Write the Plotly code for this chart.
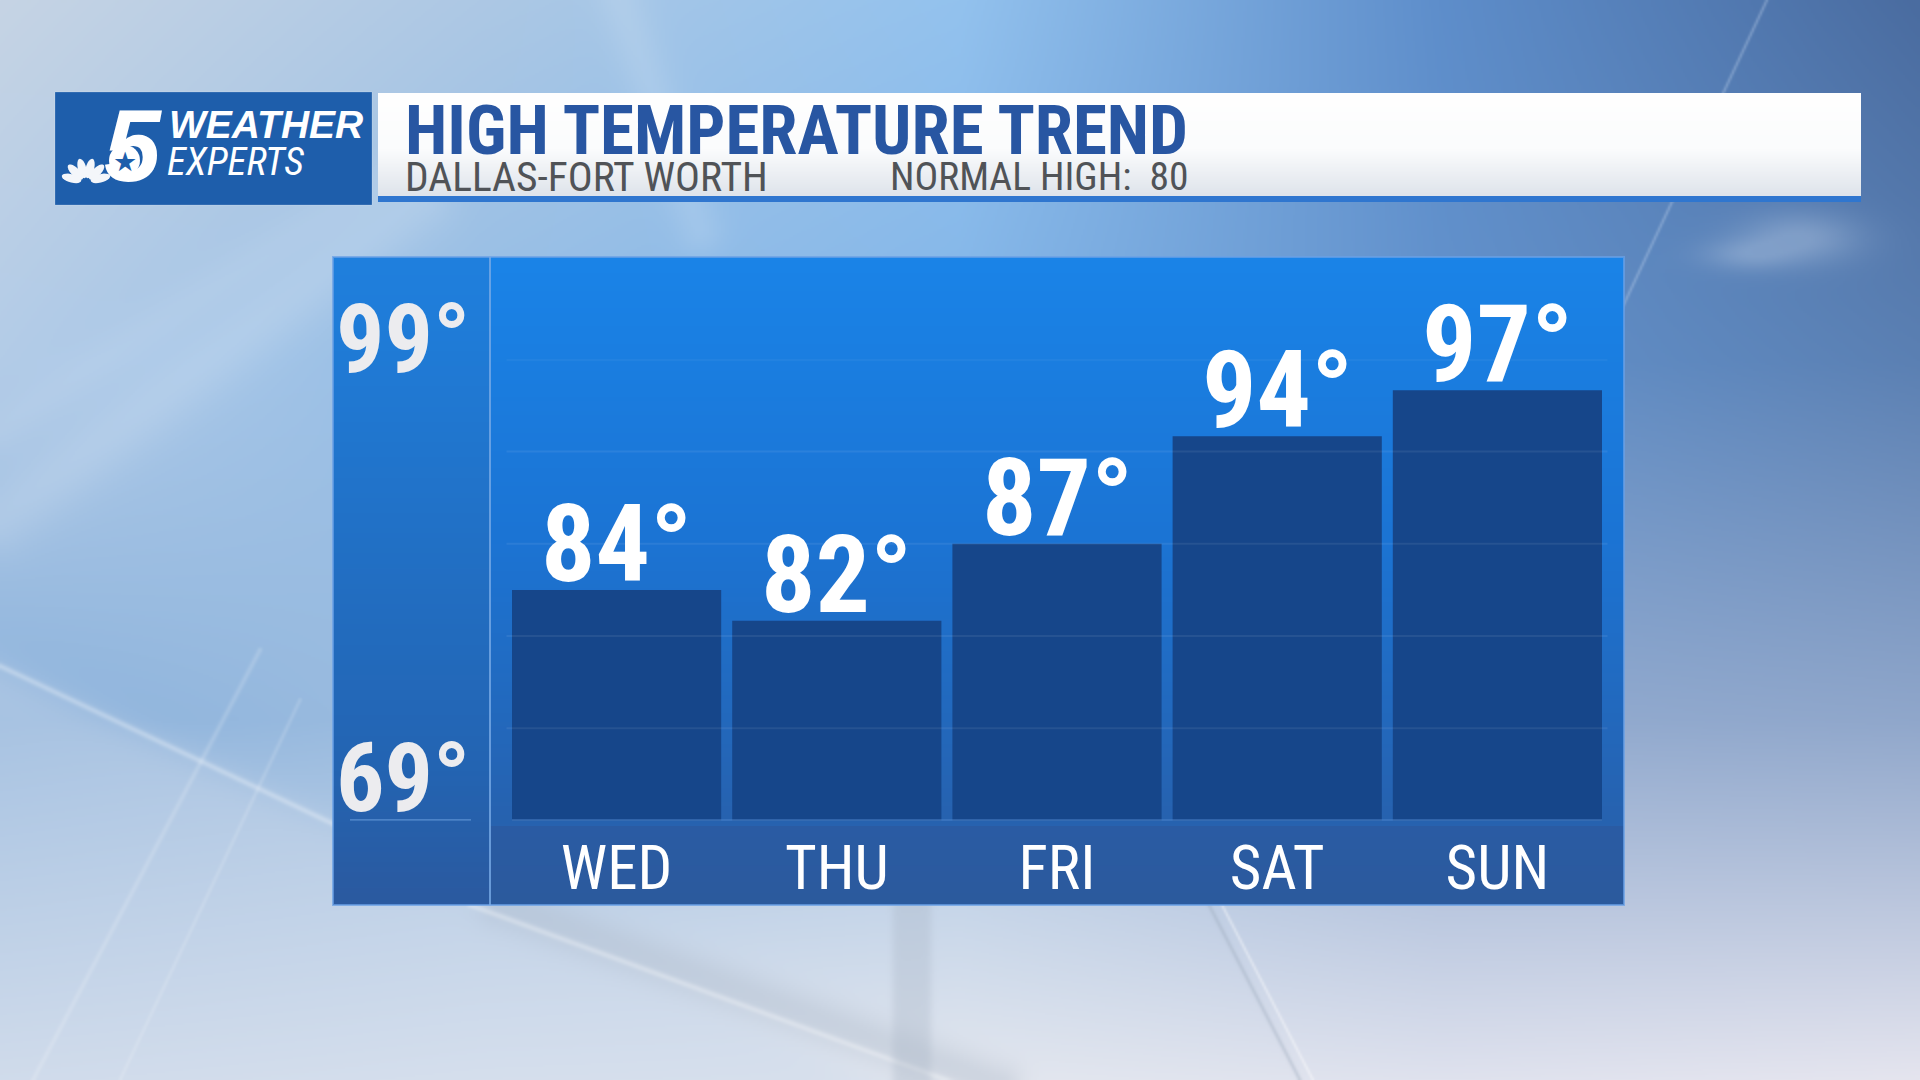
import base64
import struct
import zlib

import numpy as np
import plotly.graph_objects as go

# ---------------- data ----------------
days = ["WED", "THU", "FRI", "SAT", "SUN"]
highs = [84, 82, 87, 94, 97]
scale_min, scale_max = 69, 99
grid_values = [75, 81, 87, 93, 99]
title_text = "HIGH TEMPERATURE TREND"
location_text = "DALLAS-FORT WORTH"
normal_high = 80

# ---------------- helpers ----------------
W, H = 1920, 1080
NARROW = "Roboto Condensed, Open Sans Condensed, DejaVu Sans Condensed, sans-serif"
WIDE = "Liberation Sans, Arial, sans-serif"


def px(x):
    return x / W


def py(y):
    return 1 - y / H


def hex2rgb(h):
    return np.array([int(h[i:i + 2], 16) for i in (1, 3, 5)], float)


def png_uri(img):
    img = np.clip(img, 0, 255).astype(np.int16)
    h, w, _ = img.shape
    sub = img.copy()
    sub[:, 1:, :] = img[:, 1:, :] - img[:, :-1, :]
    sub = (sub % 256).astype(np.uint8).reshape(h, w * 3)
    raw = np.hstack([np.ones((h, 1), np.uint8), sub]).tobytes()

    def chunk(t, d):
        return (struct.pack(">I", len(d)) + t + d
                + struct.pack(">I", zlib.crc32(t + d) & 0xFFFFFFFF))

    png = (b"\x89PNG\r\n\x1a\n"
           + chunk(b"IHDR", struct.pack(">IIBBBBB", w, h, 8, 2, 0, 0, 0))
           + chunk(b"IDAT", zlib.compress(raw, 9))
           + chunk(b"IEND", b""))
    return "data:image/png;base64," + base64.b64encode(png).decode()


def bilinear(anchors, gw, gh):
    A = np.array([[hex2rgb(c) for c in row] for row in anchors])
    R, C, _ = A.shape
    yy = np.linspace(0, R - 1, gh)
    xx = np.linspace(0, C - 1, gw)
    r0 = np.minimum(np.floor(yy).astype(int), R - 2)
    c0 = np.minimum(np.floor(xx).astype(int), C - 2)
    fr = (yy - r0)[:, None, None]
    fc = (xx - c0)[None, :, None]
    a = A[r0][:, c0]
    b = A[r0][:, c0 + 1]
    c = A[r0 + 1][:, c0]
    d = A[r0 + 1][:, c0 + 1]
    return (1 - fr) * (1 - fc) * a + (1 - fr) * fc * b + fr * (1 - fc) * c + fr * fc * d


def vgradient(stops, n=128):
    pos = np.array([s[0] for s in stops])
    cols = np.array([hex2rgb(s[1]) for s in stops])
    t = np.linspace(0, 1, n)
    out = np.stack([np.interp(t, pos, cols[:, k]) for k in range(3)], axis=1)
    return np.repeat(out[:, None, :], 4, axis=1)


# ---------------- background picture (decoration) ----------------
S = 0.5
gw, gh = int(W * S), int(H * S)
bg = bilinear([
    ["#c6d4e4", "#adc8e4", "#93c2ee", "#5e8ecb", "#4a6ca0"],
    ["#b3cce8", "#94bde6", "#82b5e8", "#6392cc", "#5b80b3"],
    ["#8db3dc", "#9dbde0", "#a9c4e3", "#92abd0", "#90a7cb"],
    ["#d6dfec", "#dfe5ef", "#e3e7ef", "#dfe2ee", "#e5e5ef"],
], gw, gh)
Y, X = np.mgrid[0:gh, 0:gw]
X = (X + 0.5) / S
Y = (Y + 0.5) / S


def seg_dist(x0, y0, x1, y1):
    dx, dy = x1 - x0, y1 - y0
    t = np.clip(((X - x0) * dx + (Y - y0) * dy) / (dx * dx + dy * dy), 0, 1)
    return np.hypot(X - (x0 + t * dx), Y - (y0 + t * dy))


def blend(mask, color, alpha):
    m = (alpha * mask)[..., None]
    bg[:] = bg * (1 - m) + hex2rgb(color) * m


def streak(x0, y0, x1, y1, width, color, alpha):
    d = seg_dist(x0, y0, x1, y1)
    blend(np.exp(-(d / width) ** 2), color, alpha)


side = ((X - 0) * (855 - 666) - (Y - 666) * (400 - 0))
blend(1 / (1 + np.exp(side / 4000)), "#c9d7ea", 0.45)
streak(0, 520, 420, 200, 35, "#ffffff", 0.14)
streak(0, 430, 420, 150, 25, "#ffffff", 0.08)
streak(0, 666, 420, 865, 3, "#ffffff", 0.3)
streak(33, 1080, 260, 650, 2.5, "#ffffff", 0.17)
streak(120, 1080, 300, 700, 2, "#ffffff", 0.15)
streak(500, 905, 1000, 1085, 22, "#aab6c6", 0.35)
streak(470, 905, 960, 1085, 3, "#ffffff", 0.3)
vb = np.exp(-((X - 912) / 20) ** 6) * (Y > 900)
blend(vb, "#aab6c6", 0.35)
streak(1209, 905, 1300, 1080, 2, "#9aa8ba", 0.35)
streak(1222, 905, 1313, 1080, 1.5, "#ffffff", 0.4)
streak(1767, 0, 1560, 440, 1.5, "#c4d6ee", 0.35)
cloud = np.exp(-(((X - 1800) / 60) ** 2 + ((Y - 238) / 26) ** 2))
cloud += 0.7 * np.exp(-(((X - 1745) / 45) ** 2 + ((Y - 255) / 16) ** 2))
blend(np.clip(cloud, 0, 1), "#c9d8ec", 0.35)
streak(620, 0, 700, 230, 25, "#ffffff", 0.12)
bg_uri = png_uri(bg)

# ---------------- geometry (pixels) ----------------
PANEL_L, PANEL_R, PANEL_T, PANEL_B = 333, 1624, 257, 905
COL_R = 490
BASE_Y = 820.4
TOP99_Y = 359.4
BAND_T = 826
PLOT_L, PLOT_R = 506.5, 1607.5

images = [
    dict(source=bg_uri, x=0, y=1, sizex=1, sizey=1),
    dict(source=png_uri(vgradient([(0, "#1f80de"), (0.8, "#2464b2"), (1, "#2b5aa0")])),
         x=px(PANEL_L), y=py(PANEL_T), sizex=px(COL_R - PANEL_L), sizey=(PANEL_B - PANEL_T) / H),
    dict(source=png_uri(vgradient([(0, "#1a84e8"), (0.5, "#1c74d4"), (1, "#2762af")])),
         x=px(COL_R), y=py(PANEL_T), sizex=px(PANEL_R - COL_R), sizey=(BAND_T - PANEL_T) / H),
    dict(source=png_uri(vgradient([(0, "#2a5ca4"), (1, "#2c5a9d")])),
         x=px(COL_R), y=py(BAND_T), sizex=px(PANEL_R - COL_R), sizey=(PANEL_B - BAND_T) / H),
    dict(source=png_uri(vgradient([(0, "#ffffff"), (0.55, "#fbfcfd"), (1, "#dfe4eb")])),
         x=px(378), y=py(93), sizex=px(1861 - 378), sizey=(196 - 93) / H),
]
layout_images = [dict(im, xref="paper", yref="paper", xanchor="left", yanchor="top",
                      sizing="stretch", layer="below") for im in images]

shapes = [
    dict(type="rect", xref="paper", yref="paper", x0=px(55), x1=px(372), y0=py(92), y1=py(205),
         fillcolor="#1e5eab", line=dict(color="rgba(255,255,255,0.18)", width=1), layer="below"),
    dict(type="rect", xref="paper", yref="paper", x0=px(378), x1=px(1861), y0=py(196), y1=py(202),
         fillcolor="#2f76cf", line=dict(width=0), layer="below"),
    dict(type="rect", xref="paper", yref="paper", x0=px(PANEL_L), x1=px(PANEL_R), y0=py(PANEL_T), y1=py(PANEL_B),
         fillcolor="rgba(0,0,0,0)", line=dict(color="rgba(105,160,230,0.75)", width=2), layer="below"),
    dict(type="line", xref="paper", yref="paper", x0=px(COL_R), x1=px(COL_R), y0=py(PANEL_T), y1=py(PANEL_B),
         line=dict(color="rgba(120,170,230,0.8)", width=2), layer="below"),
    dict(type="line", xref="paper", yref="y", x0=px(350), x1=px(471), y0=scale_min, y1=scale_min,
         line=dict(color="#5a8fd2", width=2.5)),
    dict(type="line", xref="x domain", yref="y", x0=0.005, x1=0.995, y0=scale_min, y1=scale_min,
         line=dict(color="rgba(80,135,205,0.9)", width=2), layer="above"),
]
for g in grid_values:
    shapes.append(dict(type="line", xref="x domain", yref="y", x0=0, x1=1, y0=g, y1=g,
                       line=dict(color="rgba(255,255,255,0.07)", width=2), layer="above"))

# NBC peacock feathers (logo decoration)
pc_x, pc_y = 86, 182
for ang in np.linspace(165, 15, 6):
    a = np.deg2rad(ang)
    cx, cy = pc_x + 15 * np.cos(a), pc_y - 14 * np.sin(a)
    t = np.linspace(0, 2 * np.pi, 24)
    ex = 10 * np.cos(t)
    ey = 4.2 * np.sin(t)
    xs = cx + ex * np.cos(a) - ey * np.sin(a)
    ys = cy - (ex * np.sin(a) + ey * np.cos(a))
    path = "M " + " L ".join(f"{px(xx):.5f},{py(yy):.5f}" for xx, yy in zip(xs, ys)) + " Z"
    shapes.append(dict(type="path", xref="paper", yref="paper", path=path,
                       fillcolor="#f4f6fa", line=dict(width=0), layer="above"))
shapes.append(dict(type="circle", xref="paper", yref="paper", x0=px(109), x1=px(140), y0=py(145), y1=py(176),
                   fillcolor="white", line=dict(width=0), layer="above"))

# ---------------- figure ----------------
fig = go.Figure()
fig.add_trace(go.Bar(x=days, y=highs, marker=dict(color="#16468a", line=dict(width=0)), hoverinfo="skip"))

annotations = []
for d, v in zip(days, highs):
    annotations.append(dict(x=d, y=v, xref="x", yref="y", text=f"{v}°", showarrow=False,
                            yanchor="middle", xanchor="center", yshift=46,
                            font=dict(family=NARROW, size=108, color="white", weight="bold")))
for v, shift in ((scale_max, 20), (scale_min, 42)):
    annotations.append(dict(x=px(472), y=v, xref="paper", yref="y", text=f"{v}°", showarrow=False,
                            xanchor="right", yanchor="middle", yshift=shift,
                            font=dict(family=NARROW, size=96, color="#ececef", weight="bold")))

annotations += [
    dict(x=px(403), y=py(131), text=title_text, xanchor="left", yanchor="middle",
         font=dict(family=NARROW, size=69, color="#2856a2", weight="bold")),
    dict(x=px(403), y=py(177), text=location_text, xanchor="left", yanchor="middle",
         font=dict(family=NARROW, size=41.5, color="#505357")),
    dict(x=px(888), y=py(177), text=f"NORMAL HIGH:\u00a0 {normal_high}", xanchor="left", yanchor="middle",
         font=dict(family=NARROW, size=39.5, color="#505357")),
    dict(x=px(133), y=py(146), text="<i>5</i>", xanchor="center", yanchor="middle",
         font=dict(family=WIDE, size=102, color="white", weight="bold")),
    dict(x=px(124.5), y=py(161), text="★", xanchor="center", yanchor="middle",
         font=dict(family="DejaVu Sans", size=27, color="#1e5eab")),
    dict(x=px(167), y=py(125), text="<i>WEATHER</i>", xanchor="left", yanchor="middle",
         font=dict(family=WIDE, size=39, color="white", weight="bold")),
    dict(x=px(165), y=py(162), text="<i>EXPERTS</i>", xanchor="left", yanchor="middle",
         font=dict(family=NARROW, size=39, color="white")),
]
for a in annotations:
    a.setdefault("showarrow", False)
    a.setdefault("xref", "paper")
    a.setdefault("yref", "paper")

fig.update_layout(
    width=W, height=H,
    margin=dict(l=0, r=0, t=0, b=0),
    paper_bgcolor="#b8cde6",
    plot_bgcolor="rgba(0,0,0,0)",
    showlegend=False,
    bargap=0.05,
    images=layout_images,
    shapes=shapes,
    annotations=annotations,
    xaxis=dict(domain=[px(PLOT_L), px(PLOT_R)], showgrid=False, zeroline=False, showline=False,
               ticks="", tickfont=dict(family=NARROW, size=61, color="white"),
               ticklabelstandoff=7, fixedrange=True),
    yaxis=dict(domain=[py(BASE_Y), py(TOP99_Y)], range=[scale_min, scale_max],
               showgrid=False, zeroline=False, showline=False, showticklabels=False,
               fixedrange=True),
)

post = "document.body.style.margin='0';document.body.style.overflow='hidden';"
fig.write_html("out.html", config={"displayModeBar": False}, post_script=post)
